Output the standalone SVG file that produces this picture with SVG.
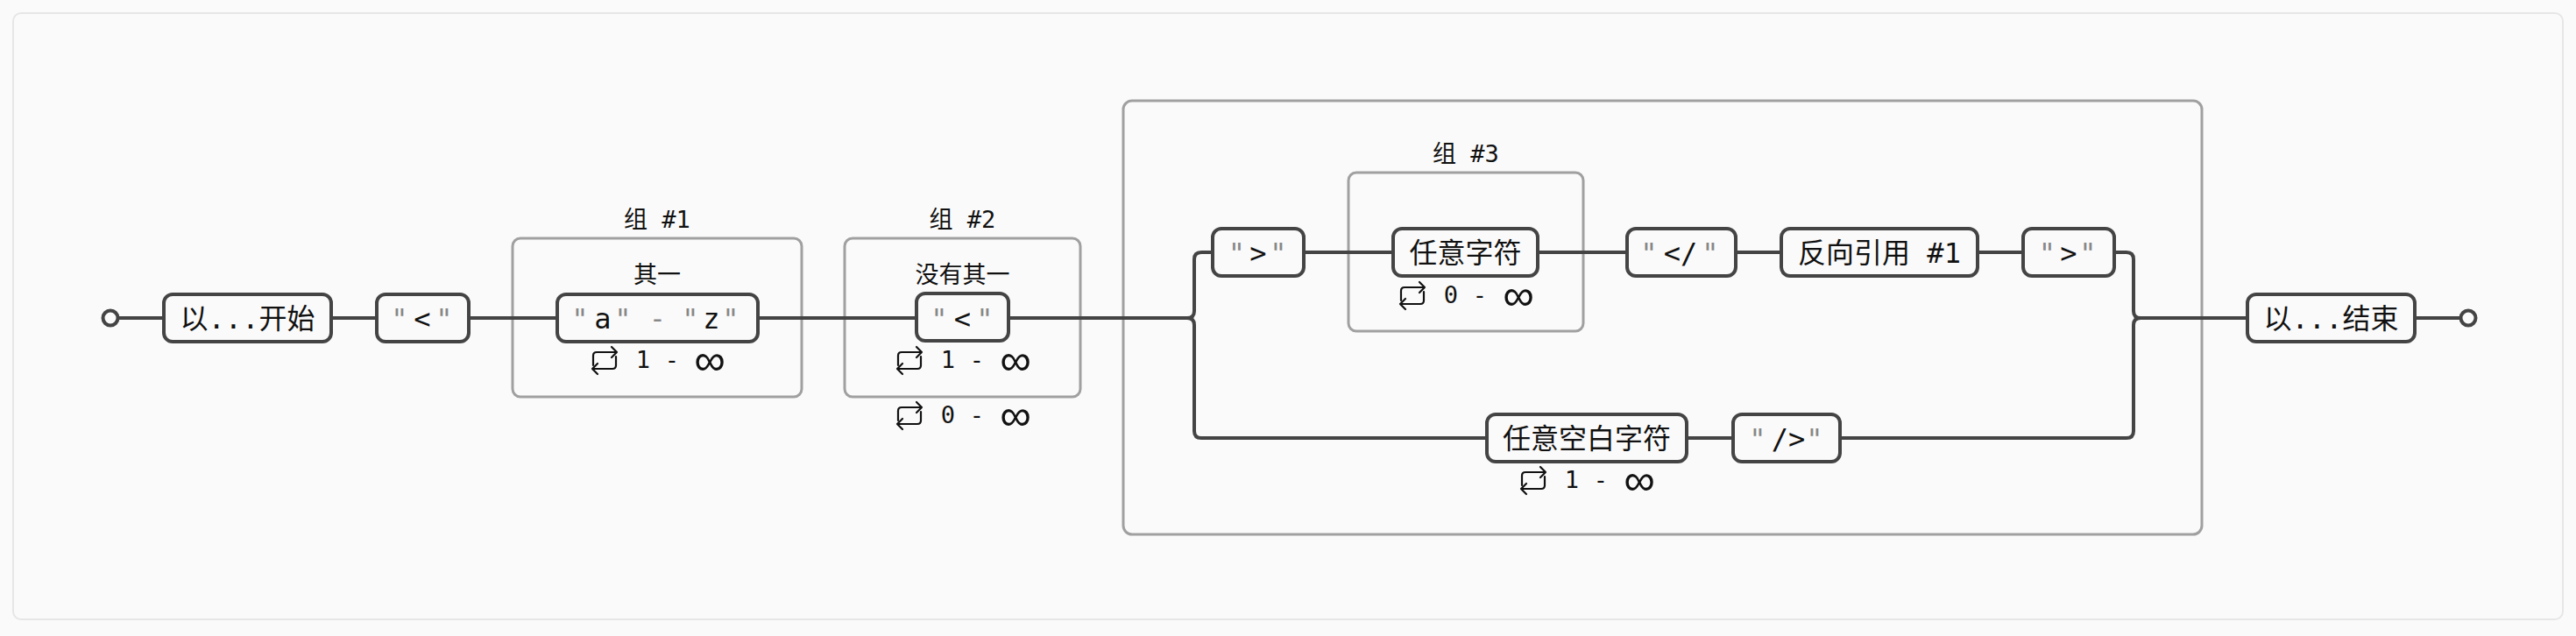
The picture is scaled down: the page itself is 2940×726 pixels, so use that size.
<svg xmlns="http://www.w3.org/2000/svg" width="2940" height="726" viewBox="0 0 2940 726">
<style>
.bg{fill:#fafafa}
.frame{fill:#fafafa;stroke:#e6e6e6;stroke-width:2}
.box{fill:none;stroke:#a0a0a0;stroke-width:3}
.node rect{fill:#fafafa;stroke:#444;stroke-width:4}
.conn path{fill:none;stroke:#444;stroke-width:4}
.term{fill:#fafafa;stroke:#444;stroke-width:4}
.t{font-family:"DejaVu Sans Mono","Noto Sans CJK SC",monospace;font-size:32px;fill:#111;text-anchor:middle}
.q{fill:#888}
.lbl{font-family:"DejaVu Sans Mono","Noto Sans CJK SC",monospace;font-size:27px;fill:#111;text-anchor:middle}
.rep{font-family:"DejaVu Sans Mono","Noto Sans CJK SC",monospace;font-size:27px;fill:#111;text-anchor:middle}
.inf{font-family:"Liberation Sans",sans-serif;font-size:50px;fill:#111;text-anchor:middle}
.icon{fill:none;stroke:#111;stroke-width:2.2;stroke-linecap:round;stroke-linejoin:round}
</style>
<defs>
<g id="loop" class="icon">
<path d="M2,22 V11 Q2,7 6,7 H29 M23,1 L29,7 L23,13"/>
<path d="M28,12 V22 Q28,26 24,26 H1 M7,20 L1,26 L7,32"/>
</g>
</defs>
<rect class="bg" x="0" y="0" width="2940" height="726"/>
<rect class="frame" x="15" y="15" width="2910" height="692" rx="9"/>

<g id="boxes">
<g id="group1"><rect class="box" x="585" y="272" width="330" height="181" rx="9"/>
<text class="lbl" x="750" y="260">组 #1</text><text class="lbl" x="750" y="323">其一</text></g>
<g id="group2"><rect class="box" x="964" y="272" width="269" height="181" rx="9"/>
<text class="lbl" x="1098.5" y="260">组 #2</text><text class="lbl" x="1098.5" y="323">没有其一</text></g>
<g id="alternation"><rect class="box" x="1282" y="115" width="1231" height="495" rx="10"/></g>
<g id="group3"><rect class="box" x="1539" y="197" width="268" height="181" rx="9"/>
<text class="lbl" x="1673" y="185">组 #3</text></g>
</g>

<g id="connectors" class="conn">
<path d="M135,363 H185"/>
<path d="M380,363 H429"/>
<path d="M537,363 H634"/>
<path d="M867,363 H1044"/>
<path d="M1153,363 H1355 Q1363,363 1363,355 V296 Q1363,288 1371,288 H1382"/>
<path d="M1355,363 Q1363,363 1363,371 V492 Q1363,500 1371,500 H1695"/>
<path d="M1490,288 H1588"/>
<path d="M1757,288 H1855"/>
<path d="M1983,288 H2031"/>
<path d="M2259,288 H2307"/>
<path d="M2415,288 H2427 Q2435,288 2435,296 V355 Q2435,363 2443,363 H2563"/>
<path d="M1927,500 H1976"/>
<path d="M2102,500 H2427 Q2435,500 2435,492 V371 Q2435,363 2443,363"/>
<path d="M2758,363 H2808"/>
</g>

<g id="start"><circle class="term" cx="126" cy="363" r="8.5"/></g>
<g id="end"><circle class="term" cx="2817" cy="363" r="8.5"/></g>

<g id="n-start" class="node"><rect x="187" y="336" width="191" height="54" rx="10"/>
<text class="t" x="282.5" y="375">以...开始</text></g>

<g id="n-lt1" class="node"><rect x="430" y="336" width="105" height="54" rx="10"/>
<text class="t"><tspan class="q" x="456" y="375">"</tspan><tspan x="482" y="375">&lt;</tspan><tspan class="q" x="507" y="375">"</tspan></text></g>

<g id="n-range" class="node"><rect x="636" y="336" width="229" height="54" rx="10"/>
<text class="t"><tspan class="q" x="662" y="375">"</tspan><tspan x="688" y="375">a</tspan><tspan class="q" x="711" y="375">"</tspan><tspan class="q" x="750.5" y="375">-</tspan><tspan class="q" x="788" y="375">"</tspan><tspan x="812" y="375">z</tspan><tspan class="q" x="834" y="375">"</tspan></text></g>

<g id="n-lt2" class="node"><rect x="1046" y="335" width="105" height="54" rx="10"/>
<text class="t"><tspan class="q" x="1072" y="375">"</tspan><tspan x="1098.5" y="375">&lt;</tspan><tspan class="q" x="1124" y="375">"</tspan></text></g>

<g id="n-gt1" class="node"><rect x="1384" y="261" width="104" height="54" rx="10"/>
<text class="t"><tspan class="q" x="1411.5" y="300">"</tspan><tspan x="1436" y="300">&gt;</tspan><tspan class="q" x="1459" y="300">"</tspan></text></g>

<g id="n-any" class="node"><rect x="1590" y="261" width="165" height="54" rx="10"/>
<text class="t" x="1672.5" y="300">任意字符</text></g>

<g id="n-close" class="node"><rect x="1857" y="261" width="124" height="54" rx="10"/>
<text class="t"><tspan class="q" x="1882" y="300">"</tspan><tspan x="1918" y="300">&lt;/</tspan><tspan class="q" x="1952" y="300">"</tspan></text></g>

<g id="n-backref" class="node"><rect x="2033" y="261" width="224" height="54" rx="10"/>
<text class="t" x="2145" y="300">反向引用 #1</text></g>

<g id="n-gt2" class="node"><rect x="2309" y="261" width="104" height="54" rx="10"/>
<text class="t"><tspan class="q" x="2336.5" y="300">"</tspan><tspan x="2361" y="300">&gt;</tspan><tspan class="q" x="2383" y="300">"</tspan></text></g>

<g id="n-space" class="node"><rect x="1697" y="473" width="228" height="54" rx="10"/>
<text class="t" x="1811" y="512">任意空白字符</text></g>

<g id="n-selfclose" class="node"><rect x="1978" y="473" width="122" height="54" rx="10"/>
<text class="t"><tspan class="q" x="2006" y="512">"</tspan><tspan x="2041" y="512">/&gt;</tspan><tspan class="q" x="2071" y="512">"</tspan></text></g>

<g id="n-end" class="node"><rect x="2565" y="336" width="191" height="54" rx="10"/>
<text class="t" x="2660.5" y="375">以...结束</text></g>

<g id="repeats">
<g id="rep1"><use href="#loop" x="675" y="395"/><text class="rep"><tspan x="734" y="420">1</tspan><tspan x="767" y="420">-</tspan></text><text class="inf" x="810" y="428">∞</text></g>
<g id="rep2"><use href="#loop" x="1023" y="395"/><text class="rep"><tspan x="1082" y="420">1</tspan><tspan x="1115" y="420">-</tspan></text><text class="inf" x="1159" y="428">∞</text></g>
<g id="rep3"><use href="#loop" x="1023" y="458"/><text class="rep"><tspan x="1082" y="483">0</tspan><tspan x="1115" y="483">-</tspan></text><text class="inf" x="1159" y="491">∞</text></g>
<g id="rep4"><use href="#loop" x="1597" y="321"/><text class="rep"><tspan x="1656" y="346">0</tspan><tspan x="1689" y="346">-</tspan></text><text class="inf" x="1733" y="354">∞</text></g>
<g id="rep5"><use href="#loop" x="1735" y="532"/><text class="rep"><tspan x="1794" y="557">1</tspan><tspan x="1827" y="557">-</tspan></text><text class="inf" x="1871" y="565">∞</text></g>
</g>
</svg>
